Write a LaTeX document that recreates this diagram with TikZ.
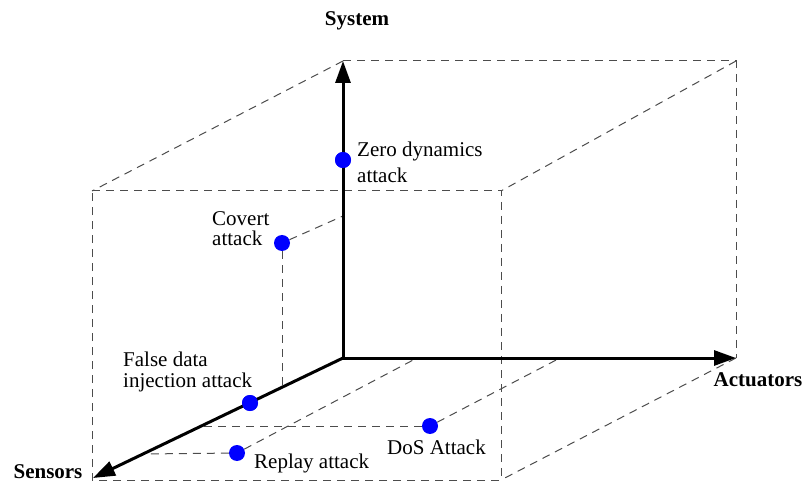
\documentclass[tikz,border=0pt]{standalone}
\usepackage{fontspec}
\setmainfont{Liberation Serif}
\usetikzlibrary{arrows.meta}

\begin{document}
\begin{tikzpicture}[x=1pt, y=-1pt,
  axis/.style={line width=3pt, -{Triangle[length=22pt, width=15pt]}},
  guide/.style={dash pattern=on 8pt off 6pt, line width=1pt, draw=black!70},
  attackdot/.style={circle, fill=blue, inner sep=0pt, minimum size=16pt},
  lbl/.style={font=\fontsize{21}{21}\selectfont, inner sep=0pt, align=left},
  axlbl/.style={font=\bfseries\fontsize{21}{24}\selectfont, inner sep=0pt}]
\useasboundingbox (0,0) rectangle (807,484);

% axis end points and box corners
\coordinate (O)  at (343,358);
\coordinate (Ys) at (343,61);
\coordinate (Ac) at (736,358);
\coordinate (Se) at (93,478);
\coordinate (BTR) at (736,61);
\coordinate (FTL) at (92,191);
\coordinate (FTR) at (501,191);
\coordinate (FBR) at (501,480);
\coordinate (FBL) at (92,480);

% feet of the projection lines on the axes
\coordinate (covSys) at (343,216);
\coordinate (covSen) at (282,388);
\coordinate (repSen) at (143,454);
\coordinate (repAct) at (417,358);
\coordinate (dosSen) at (203,426);
\coordinate (dosAct) at (560,358);

% attack points
\node[attackdot] (zero)   at (343,160) {};
\node[attackdot] (covert) at (282,243) {};
\node[attackdot] (fdi)    at (250,403) {};
\node[attackdot] (replay) at (237,453) {};
\node[attackdot] (dos)    at (430,426) {};

% dashed box
\draw[guide] (Ys) -- (BTR) -- (Ac);
\draw[guide] (Ys) -- (FTL);
\draw[guide] (BTR) -- (FTR);
\draw[guide] (Ac) -- (FBR);
\draw[guide] (FTL) -- (FTR) -- (FBR) -- (FBL) -- cycle;

% projection lines
\draw[guide] (covert) -- (covSys);
\draw[guide] (covert) -- (covSen);
\draw[guide] (replay) -- (repSen);
\draw[guide] (replay) -- (repAct);
\draw[guide] (dos) -- (dosSen);
\draw[guide] (dos) -- (dosAct);

% axes
\draw[axis] (O) -- (Ys);
\draw[axis] (O) -- (Ac);
\draw[axis] (O) -- (Se);

% redraw points over the axes
\fill[blue] (zero) circle (8pt);
\fill[blue] (fdi) circle (8pt);

% axis labels
\node[axlbl] (sysl) at (357,21)  {System};
\node[axlbl] (actl) at (758,380) {Actuators};
\node[axlbl] (senl) at (48,472)  {Sensors};

% attack labels
\node[lbl, anchor=north west, font=\fontsize{21}{26}\selectfont] (zerol) at (357,141.5) {Zero dynamics\\attack};
\node[lbl, anchor=north west, font=\fontsize{21}{20}\selectfont] (covl) at (212,211) {Covert\\attack};
\node[lbl, anchor=north west] (fdil) at (123,351.5) {False data\\injection attack};
\node[lbl, anchor=base west] (repl) at (254,468) {Replay attack};
\node[lbl, anchor=base west] (dosl) at (387,454) {DoS Attack};
\end{tikzpicture}
\end{document}
